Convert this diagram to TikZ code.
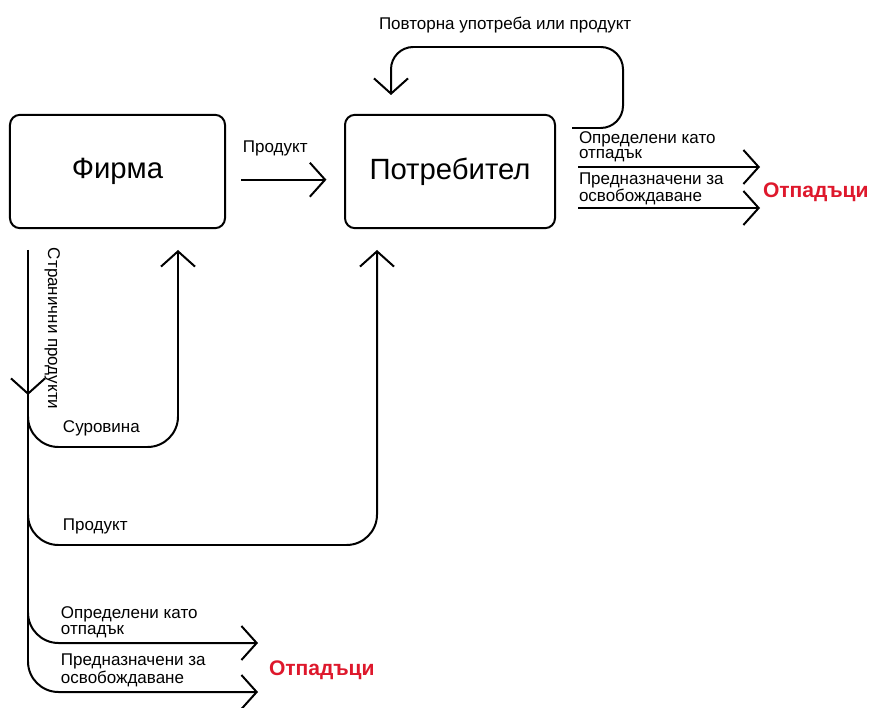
\documentclass[tikz,border=0pt]{standalone}
\usepackage{fontspec}
\setmainfont{Liberation Sans}
\usetikzlibrary{arrows.meta, positioning}
\definecolor{wastered}{RGB}{222,24,44}

\begin{document}
\begin{tikzpicture}[x=0.03cm, y=-0.03cm, line width=1.7pt,
    >={Straight Barb[length=13pt, width=29pt]},
    box/.style={draw, rounded corners=8.5pt, minimum width=6.45cm, minimum height=3.4cm,
        font=\fontsize{25}{29}\selectfont},
    lbl/.style={inner sep=0pt, anchor=base west, align=left, font=\fontsize{14.5}{13.5}\selectfont},
    waste/.style={inner sep=0pt, anchor=base west, text=wastered,
        font=\fontsize{18}{20}\selectfont\bfseries},
    loop/.style={rounded corners=26pt}]
\useasboundingbox (0,0) rectangle (870,708);
\node[box] (firm) at (117.5,171.5) {Фирма};
\node[box, right=3.54cm of firm, minimum width=6.3cm] (consumer) {Потребител};
% product to consumer
\draw[->] ([xshift=13pt,yshift=-7pt]firm.east) -- ([xshift=-15pt,yshift=-7pt]consumer.west);
\node[lbl] (prodtop) at (242,153) {Продукт};
% reuse loop
\coordinate (reuseA) at (572,128);
\coordinate (reuseB) at (623,47);
\coordinate (reuseC) at (391,95);
\draw[->, rounded corners=19pt] (reuseA) -| (reuseB) -| (reuseC);
\node[lbl] (reuse) at (378,30) {Повторна употреба или продукт};
% consumer outputs
\coordinate (cwA) at (578,167);
\coordinate (cwB) at (760,167);
\coordinate (crA) at (578,208);
\coordinate (crB) at (760,208);
\draw[->] (cwA) -- (cwB);
\draw[->] (crA) -- (crB);
\node[lbl] (cwaste) at (578,159) {Определени като\\отпадък};
\node[lbl] (crelease) at (578,202) {Предназначени за\\освобождаване};
\node[waste] (wasteR) at (762,198) {Отпадъци};
% side products line
\coordinate (sideTop) at (28,250);
\coordinate (sideMark) at (28,395);
\coordinate (sideEnd) at (28,640);
\draw[->] (sideTop) -- (sideMark);
\draw (sideMark) -- (sideEnd);
\node[lbl, rotate=-90] (side) at (48,247) {Странични продукти};
% raw material back to firm
\coordinate (rawTip) at (178,250);
\draw[->, loop] (28,380) |- (178,447) -- (rawTip);
\node[lbl] (raw) at (62,432) {Суровина};
% product to consumer
\coordinate (prodTip) at (377,250);
\draw[->, loop] (28,480) |- (377,545) -- (prodTip);
\node[lbl] (prodlow) at (62,530) {Продукт};
% firm outputs
\coordinate (fwB) at (258,643);
\coordinate (frB) at (258,692);
\draw[->, loop] (28,600) |- (fwB);
\draw[->, loop] (28,640) |- (frB);
\node[lbl] (fwaste) at (60,634) {Определени като\\отпадък};
\node[lbl] (frelease) at (60,683) {Предназначени за\\освобождаване};
\node[waste] (wasteL) at (268,675) {Отпадъци};
\end{tikzpicture}
\end{document}
